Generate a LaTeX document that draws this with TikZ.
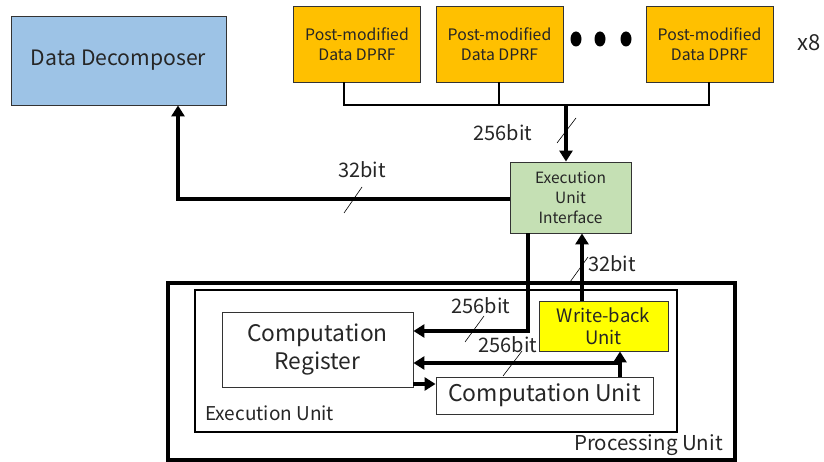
\documentclass[tikz,border=0pt]{standalone}
\usepackage{fontspec}
\setmainfont{Noto Sans CJK JP}
\usetikzlibrary{arrows.meta,calc}
\definecolor{ddblue}{HTML}{9DC3E6}
\definecolor{dprf}{HTML}{FFC000}
\definecolor{euigreen}{HTML}{C5E0B4}
\definecolor{wbyellow}{HTML}{FFFF00}
\definecolor{ink}{HTML}{262626}
\begin{document}
\begin{tikzpicture}[x=1pt,y=-1pt,
  box/.style={draw=black!80, line width=0.9pt, inner sep=0pt, align=center, text=ink},
  wire/.style={line width=3.1pt},
  buswire/.style={line width=2.2pt},
  tick/.style={line width=0.6pt},
  tip/.style={-{Triangle[length=11pt,width=13pt]}},
  lbl/.style={text=ink, inner sep=0pt},
  bitfont/.style={font=\fontsize{20}{24}\selectfont}]
\useasboundingbox (0,0) rectangle (824,462);

% enclosing frames
\draw[line width=3.4pt] (168,283) rectangle (735,460);
\draw[line width=2.8pt] (195,290) rectangle (677,432);
\node[lbl, anchor=west, font=\fontsize{19}{22}\selectfont] (eulbl) at (205,413) {Execution Unit};
\node[lbl, anchor=east, font=\fontsize{20.5}{22}\selectfont] (pulbl) at (723,445) {Processing Unit};

% blocks
\node[box, fill=ddblue, minimum width=215, minimum height=89,
      font=\fontsize{21.2}{24}\selectfont] (dd) at (118.5,60.5) {Data Decomposer};
\foreach \n/\cx in {d1/357, d2/499.5, d3/709.5}
  \node[box, fill=dprf, minimum width=127, minimum height=76,
        font=\fontsize{15.8}{20}\selectfont] (\n) at (\cx,44) {Post-modified\\Data DPRF};
\foreach \i/\dx in {1/576, 2/600, 3/626}
  \fill (\dx,39) ellipse (5.5pt and 7.5pt);
\node[lbl, font=\fontsize{22}{24}\selectfont] (times) at (809,43) {x8};

\node[box, fill=euigreen, minimum width=121, minimum height=71,
      font=\fontsize{15.5}{20}\selectfont] (eui) at (570.5,197.5) {Execution\\Unit\\Interface};
\node[box, minimum width=191, minimum height=75,
      font=\fontsize{22.8}{28}\selectfont] (cr) at (317.5,349.5) {Computation\\Register};
\node[box, minimum width=217, minimum height=37,
      font=\fontsize{23}{26}\selectfont] (cu) at (544.5,395.5) {Computation Unit};
\node[box, fill=wbyellow, minimum width=129, minimum height=50,
      font=\fontsize{18.5}{22}\selectfont] (wb) at (603.5,326) {Write-back\\Unit};

% DPRF bus
\coordinate (b1) at (344,105);
\coordinate (b2) at (499,105);
\coordinate (b3) at (709,105);
\coordinate (bm) at (566,105);
\draw[buswire] (d1.south -| b1) -- (b1) -- (b3) -- (d3.south -| b3);
\draw[buswire] (d2.south -| b2) -- (b2);
\draw[wire, tip] (bm) -- (eui.north -| bm);
\draw[tick] (557,143) -- (576,118);
\node[lbl, bitfont] (l256a) at (503,133) {256bit};

% interface to decomposer
\coordinate (ddc) at (178,199);
\draw[wire, tip] (eui.west |- ddc) -- (ddc) -- (dd.south -| ddc);
\draw[tick] (344,213) -- (362,187);
\node[lbl, bitfont] (l32a) at (362,170) {32bit};

% interface to register
\coordinate (ein) at (528,331);
\draw[wire, tip] (eui.south -| ein) -- (ein) -- (cr.east |- ein);
\draw[tick] (465,342) -- (484,316);
\node[lbl, bitfont] (l256b) at (481,306) {256bit};

% write-back to interface
\coordinate (wbo) at (582,301);
\draw[wire, tip] (wb.north -| wbo) -- (eui.south -| wbo);
\draw[tick] (570,282) -- (588,257);
\node[lbl, bitfont] (l32b) at (612,264) {32bit};

% computation unit outputs
\coordinate (cuo) at (620,363);
\draw[wire, tip] (cu.north -| cuo) -- (wb.south -| cuo);
\draw[wire, tip] (cuo) -- (cr.east |- cuo);
\draw[tick] (503,376) -- (522,351);
\node[lbl, bitfont] (l256c) at (508,345) {256bit};

% register to computation unit
\coordinate (rc) at (413,384);
\draw[wire, tip] (cr.east |- rc) -- (cu.west |- rc);
\end{tikzpicture}
\end{document}
